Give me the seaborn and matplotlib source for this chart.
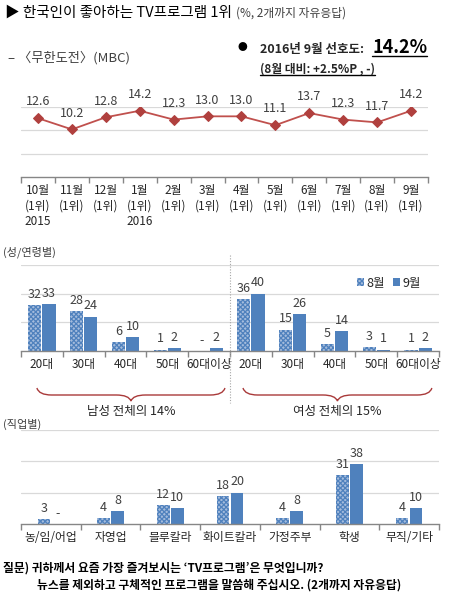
import numpy as np
import pandas as pd
import matplotlib
matplotlib.use("Agg")
import matplotlib.pyplot as plt
import matplotlib.transforms as mtransforms
from matplotlib.path import Path
from matplotlib.patches import PathPatch, Patch
from matplotlib.lines import Line2D
import seaborn as sns

# ---- data ----
months = ['10월', '11월', '12월', '1월', '2월', '3월', '4월', '5월', '6월', '7월', '8월', '9월']
years = ['2015', '', '', '2016', '', '', '', '', '', '', '', '']
trend = [12.6, 10.2, 12.8, 14.2, 12.3, 13.0, 13.0, 11.1, 13.7, 12.3, 11.7, 14.2]

sexes = ['남성', '여성']
ages = ['20대', '30대', '40대', '50대', '60대이상']
age_aug = [32, 28, 6, 1, None, 36, 15, 5, 3, 1]
age_sep = [33, 24, 10, 2, 2, 40, 26, 14, 1, 2]
sex_totals = ['남성 전체의 14%', '여성 전체의 15%']
brace_spans = [(-0.12, 4.38), (4.81, 9.33)]

jobs = ['농/임/어업', '자영업', '블루칼라', '화이트칼라', '가정주부', '학생', '무직/기타']
job_aug = [3, 4, 12, 18, 4, 31, 4]
job_sep = [None, 8, 10, 20, 8, 38, 10]

hue_months = ['8월', '9월']

# ---- style ----
BLUE = '#4F81BD'
LIGHT = '#A4BCDD'
LINE = '#C0504D'
MARK = '#B0403E'
GRID = '#D9D9D9'
AXIS = '#868686'
TEXT = '#262626'
BRACE = '#A93A3A'
HATCH = 'xxxxxxx'

sns.set_theme(style='white')
plt.rcParams['font.family'] = ['Noto Sans CJK KR', 'DejaVu Sans']
plt.rcParams['hatch.color'] = BLUE
plt.rcParams['hatch.linewidth'] = 0.9

W, H = 451, 599
fig = plt.figure(figsize=(W / 100, H / 100), dpi=100)


def box(l, t, r, b):
    return [l / W, 1 - b / H, (r - l) / W, (b - t) / H]


def fy(y):
    return 1 - y / H


def style_axis(ax, ymax, grid_step):
    for s in ['top', 'right', 'left']:
        ax.spines[s].set_visible(False)
    ax.spines['bottom'].set_color(AXIS)
    ax.spines['bottom'].set_linewidth(1)
    ax.set_ylim(0, ymax)
    ax.set_yticks(np.arange(grid_step, ymax + 0.1, grid_step))
    ax.set_yticklabels([])
    ax.yaxis.grid(True, color=GRID, lw=0.9)
    ax.set_axisbelow(True)
    ax.tick_params(axis='y', length=0)
    ax.tick_params(axis='x', which='major', length=0, labelsize=8.5,
                   labelcolor=TEXT, pad=5)
    ax.tick_params(axis='x', which='minor', length=4, color=AXIS, width=1,
                   bottom=True)
    ax.set_xlabel('')
    ax.set_ylabel('')


# ---- 1. monthly trend ----
ax1 = fig.add_axes(box(21, 107, 428, 177))
df1 = pd.DataFrame({'pos': range(len(trend)), 'value': trend})
sns.lineplot(data=df1, x='pos', y='value', ax=ax1, color=LINE, lw=1.3,
             marker='D', markersize=5, markerfacecolor=MARK,
             markeredgecolor=MARK)
ax1.set_xlim(-0.5, len(trend) - 0.5)
style_axis(ax1, 15, 5)
ax1.set_xticks(range(len(trend)))
ax1.set_xticklabels([f"{m}\n(1위)" + (f"\n{y}" if y else "")
                     for m, y in zip(months, years)], linespacing=1.25)
ax1.set_xticks(np.arange(-0.5, len(trend), 1), minor=True)
for i, v in enumerate(trend):
    ax1.annotate(f"{v:.1f}", (i, v), xytext=(0, 7), textcoords='offset points',
                 ha='center', va='bottom', fontsize=9, color='#404040')


# ---- bar helper ----
def bar_panel(ax, keys, tick_labels, aug, sep, width, gap):
    df = pd.DataFrame({
        'group': keys * 2,
        'month': [hue_months[0]] * len(keys) + [hue_months[1]] * len(keys),
        'value': [v if v is not None else 0 for v in aug] +
                 [v if v is not None else 0 for v in sep],
    })
    sns.barplot(data=df, x='group', y='value', hue='month', order=keys,
                hue_order=hue_months, palette=[BLUE, BLUE], width=width,
                gap=gap, errorbar=None, ax=ax, legend=False)
    for b in ax.containers[0]:
        b.set_facecolor(LIGHT)
        b.set_hatch(HATCH)
        b.set_edgecolor(BLUE)
        b.set_linewidth(0)
    for b in ax.containers[1]:
        b.set_facecolor(BLUE)
        b.set_linewidth(0)
    for cont, vals in zip(ax.containers, [aug, sep]):
        ax.bar_label(cont, labels=['-' if v is None else str(v) for v in vals],
                     padding=3, fontsize=9, color='#404040')
    ax.set_xlim(-0.5, len(keys) - 0.5)
    style_axis(ax, 60, 20)
    ax.set_xticks(range(len(keys)))
    ax.set_xticklabels(tick_labels)
    ax.set_xticks(np.arange(-0.5, len(keys), 1), minor=True)


# ---- 2. sex / age ----
ax2 = fig.add_axes(box(21, 265, 439, 351))
keys2 = [s + a for s in sexes for a in ages]
bar_panel(ax2, keys2, ages * len(sexes), age_aug, age_sep, 0.68, 0.08)
ax2.legend(handles=[Patch(facecolor=LIGHT, hatch=HATCH, edgecolor=BLUE, lw=0),
                    Patch(facecolor=BLUE, lw=0)],
           labels=hue_months, loc='center', bbox_to_anchor=(0.88, 0.79),
           ncol=2, frameon=False, fontsize=9, handlelength=0.6,
           handleheight=0.6, handletextpad=0.2, columnspacing=0.6)

blend = mtransforms.blended_transform_factory(ax2.transData, fig.transFigure)
fig.add_artist(Line2D([len(ages) - 0.5] * 2, [fy(255), fy(403)],
                      transform=blend, color='#A6A6A6', lw=0.8,
                      ls=(0, (1, 1.5))))

# curly braces under each sex group
y_top, y_flat, y_tip = fy(388), fy(395), fy(401)
for (x0, x1), label in zip(brace_spans, sex_totals):
    xm = (x0 + x1) / 2
    d = 0.35
    verts = [(x0, y_top), (x0 + 0.05, y_flat), (x0 + d, y_flat),
             (xm - d, y_flat),
             (xm - 0.05, y_flat), (xm, y_tip),
             (xm + 0.05, y_flat), (xm + d, y_flat),
             (x1 - d, y_flat),
             (x1 - 0.05, y_flat), (x1, y_top)]
    codes = [Path.MOVETO, Path.CURVE3, Path.CURVE3, Path.LINETO,
             Path.CURVE3, Path.CURVE3, Path.CURVE3, Path.CURVE3,
             Path.LINETO, Path.CURVE3, Path.CURVE3]
    fig.add_artist(PathPatch(Path(verts, codes), transform=blend,
                             facecolor='none', edgecolor=BRACE, lw=1.0))
    fig.text(xm, fy(411), label, transform=blend, ha='center', va='center',
             fontsize=9, color=TEXT)

# ---- 3. occupation ----
ax3 = fig.add_axes(box(21, 430, 439, 524))
bar_panel(ax3, jobs, jobs, job_aug, job_sep, 0.47, 0.1)

# ---- titles & notes ----
t1 = fig.text(5 / W, fy(13), '▶ 한국인이 좋아하는 TV프로그램 1위', fontsize=10.5,
              color='black', va='center')
fig.canvas.draw()
r = fig.canvas.get_renderer()
bb = t1.get_window_extent(r)
fig.text(bb.x1 / W + 4 / W, fy(13), '(%, 2개까지 자유응답)', fontsize=8.5,
         color='#404040', va='center')

fig.text(8 / W, fy(58), '– 〈무한도전〉(MBC)', fontsize=9.5, color='#404040',
         va='center')

fig.text(237 / W, fy(47), '●', fontsize=7, color='black', va='center')
fig.text(260 / W, fy(53), '2016년 9월 선호도:', fontsize=9, fontweight='bold',
         color=TEXT, va='baseline')
t_big = fig.text(372 / W, fy(53), '14.2%', fontsize=13, fontweight='bold',
                 color='black', va='baseline')
t_sub = fig.text(260 / W, fy(69), '(8월 대비: +2.5%P , -)', fontsize=8.5,
                 fontweight='bold', color=TEXT, va='center')
fig.canvas.draw()
for t, y in [(t_big, 56), (t_sub, 75)]:
    b = t.get_window_extent(r)
    fig.add_artist(Line2D([b.x0 / W, b.x1 / W], [fy(y), fy(y)],
                          transform=fig.transFigure, color='black', lw=1))

fig.text(3 / W, fy(252), '(성/연령별)', fontsize=8, color='#404040', va='center')
fig.text(3 / W, fy(424), '(직업별)', fontsize=8, color='#404040', va='center')

fig.text(3 / W, fy(568), "질문) 귀하께서 요즘 가장 즐겨보시는 ‘TV프로그램’은 무엇입니까?",
         fontsize=8.5, fontweight='bold', color='black', va='center')
fig.text(37 / W, fy(585), '뉴스를 제외하고 구체적인 프로그램을 말씀해 주십시오. (2개까지 자유응답)',
         fontsize=8.5, fontweight='bold', color='black', va='center')

fig.savefig('out.png', dpi=100)
